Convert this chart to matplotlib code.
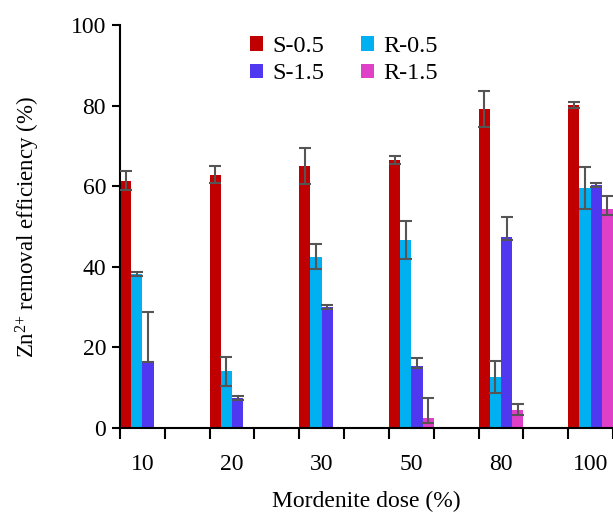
import numpy as np
import matplotlib
matplotlib.use('Agg')
import matplotlib.pyplot as plt

plt.rcParams['font.family'] = ['Liberation Serif', 'DejaVu Serif']
plt.rcParams['mathtext.fontset'] = 'custom'
plt.rcParams['mathtext.rm'] = 'Liberation Serif'
plt.rcParams['mathtext.default'] = 'regular'

# Data
doses = ['10', '20', '30', '50', '80', '100']
series = ['S-0.5', 'R-0.5', 'S-1.5', 'R-1.5']
s05 = [61.4, 62.9, 65.0, 66.5, 79.1, 80.1]
s05_lo = [2.4, 2.2, 4.5, 1.1, 4.4, 0.7]
s05_hi = [2.4, 2.2, 4.5, 1.1, 4.4, 0.7]
r05 = [38.2, 14.1, 42.5, 46.6, 12.6, 59.5]
r05_lo = [0.4, 3.6, 3.1, 4.7, 4.0, 5.2]
r05_hi = [0.4, 3.6, 3.1, 4.7, 4.0, 5.2]
s15 = [16.7, 7.5, 30.1, 15.5, 47.5, 60.3]
s15_lo = [0.4, 0.6, 0.5, 0.5, 0.9, 0.4]
s15_hi = [12.0, 0.4, 0.4, 1.9, 4.9, 0.4]
r15 = [0, 0, 0, 2.6, 4.5, 54.3]
r15_lo = [0, 0, 0, 1.3, 1.3, 1.4]
r15_hi = [0, 0, 0, 4.9, 1.4, 3.3]

values = [s05, r05, s15, r15]
lows = [s05_lo, r05_lo, s15_lo, r15_lo]
highs = [s05_hi, r05_hi, s15_hi, r15_hi]
colors = ['#C00000', '#00B0F0', '#5038F0', '#E040C8']

fig = plt.figure(figsize=(6.13, 5.17), dpi=100)
ax = fig.add_axes([120 / 613, 1 - 428 / 517, 493 / 613, 403 / 517])

x = np.arange(len(doses))
w = 0.125
handles = {}
for k, (vals, lo, hi, c) in enumerate(zip(values, lows, highs, colors)):
    xs = x + (k - 1.5) * w
    vals = np.array(vals, dtype=float)
    b = ax.bar(xs, vals, width=w, color=c, edgecolor='none', zorder=2)
    handles[series[k]] = b
    m = vals > 0
    ax.errorbar(xs[m], vals[m], yerr=[np.array(lo)[m], np.array(hi)[m]],
                fmt='none', ecolor='#555555', elinewidth=1.5, capsize=4.5,
                capthick=1.5, zorder=3)

ax.set_xlim(-0.25, 5.18)
ax.set_ylim(0, 100)
ax.set_yticks(range(0, 101, 20))
ax.set_xticks(x)
ax.set_xticklabels(doses)
ax.set_xticks(np.concatenate([x - 0.25, x + 0.25]), minor=True)
ax.tick_params(axis='x', which='major', length=0, pad=19, labelsize=17)
ax.tick_params(axis='x', which='minor', length=8, width=1.5, direction='out')
ax.tick_params(axis='y', length=6, width=1.5, labelsize=17, pad=4)
for s in ['top', 'right']:
    ax.spines[s].set_visible(False)
for s in ['left', 'bottom']:
    ax.spines[s].set_linewidth(1.5)

ax.set_xlabel('Mordenite dose (%)', fontsize=17, labelpad=11)
ax.set_ylabel('Zn$^{2{+}}$ removal efficiency (%)', fontsize=16.5, labelpad=21)

order = ['S-0.5', 'S-1.5', 'R-0.5', 'R-1.5']
fig.legend([handles[n] for n in order], order, loc='upper left',
           bbox_to_anchor=(238 / 613, 1 - 24 / 517), ncol=2, frameon=False,
           fontsize=17.5, handlelength=0.52, handleheight=0.52, handletextpad=0.4,
           columnspacing=1.5, labelspacing=0.25, borderpad=0)

fig.savefig('out.png', dpi=100)
